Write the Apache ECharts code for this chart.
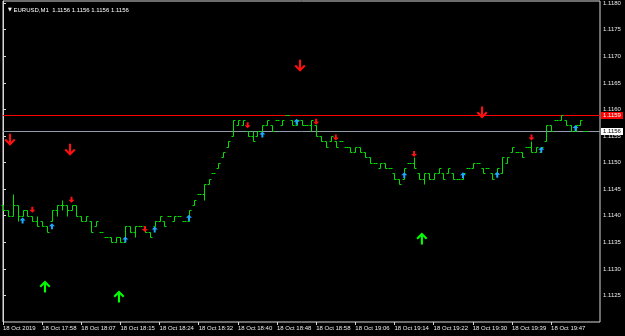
<!DOCTYPE html>
<html><head><meta charset="utf-8">
<script src="https://cdn.jsdelivr.net/npm/echarts@6/dist/echarts.min.js"></script>
<style>html,body{margin:0;padding:0;background:#000;}#c{width:625px;height:336px;}</style>
</head><body><div id="c"></div>
<script>
const timeLabels = ["18 Oct 2019","18 Oct 17:58","18 Oct 18:07","18 Oct 18:15","18 Oct 18:24","18 Oct 18:32","18 Oct 18:40","18 Oct 18:48","18 Oct 18:58","18 Oct 19:06","18 Oct 19:14","18 Oct 19:22","18 Oct 19:30","18 Oct 19:39","18 Oct 19:47"];
const barsPerLabel = 8;
const slotCount = 123;
const priceTicks = ["1.1125","1.1130","1.1135","1.1140","1.1145","1.1150","1.1155","1.1160","1.1165","1.1170","1.1175","1.1180"];

const openP = [1.1142,1.1141,1.1140,1.1142,1.1140,1.1141,1.1140,1.1139,1.1139,1.1138,
1.1139,1.1141,1.1142,1.1142,1.1141,1.1142,1.1140,1.1139,1.1139,1.1138,
1.1137,1.1136,1.1136,1.1135,1.1136,1.1135,1.1138,1.1137,1.1138,1.1138,
1.1137,1.1138,1.1139,1.1139,1.1140,1.1139,1.1140,1.1139,1.1139,1.1142,
1.1144,1.1144,1.1146,1.1148,1.1149,1.1151,1.1153,1.1155,1.1157,1.1157,
1.1156,1.1155,1.1155,1.1156,1.1157,1.1157,1.1158,1.1157,1.1159,1.1158,
1.1157,1.1158,1.1157,1.1157,1.1157,1.1155,1.1154,1.1154,1.1154,1.1154,
1.1153,1.1153,1.1152,1.1153,1.1152,1.1151,1.1150,1.1149,1.1150,1.1149,
1.1148,1.1147,1.1147,1.1150,1.1150,1.1148,1.1147,1.1148,1.1147,1.1148,
1.1148,1.1148,1.1148,1.1147,1.1147,1.1149,1.1149,1.1150,1.1149,1.1149,
1.1148,1.1148,1.1148,1.1150,1.1152,1.1152,1.1152,1.1153,1.1153,1.1152,
1.1152,1.1154,1.1157,1.1158,1.1158,1.1158,1.1157,1.1156,1.1157,1.1156];
const highP = [1.1142,1.1141,1.1144,1.1142,1.1141,1.1141,1.1140,1.1140,1.1139,1.1138,
1.1141,1.1142,1.1143,1.1142,1.1142,1.1142,1.1140,1.1140,1.1139,1.1139,
1.1137,1.1136,1.1136,1.1136,1.1136,1.1138,1.1138,1.1138,1.1138,1.1138,
1.1137,1.1139,1.1140,1.1139,1.1140,1.1140,1.1140,1.1139,1.1141,1.1143,
1.1144,1.1146,1.1147,1.1148,1.1150,1.1152,1.1154,1.1158,1.1158,1.1158,
1.1156,1.1156,1.1156,1.1157,1.1158,1.1157,1.1158,1.1158,1.1159,1.1158,
1.1158,1.1158,1.1157,1.1158,1.1157,1.1155,1.1154,1.1155,1.1154,1.1154,
1.1153,1.1153,1.1153,1.1153,1.1152,1.1151,1.1150,1.1150,1.1150,1.1149,
1.1148,1.1147,1.1149,1.1150,1.1151,1.1148,1.1148,1.1148,1.1148,1.1149,
1.1148,1.1149,1.1148,1.1147,1.1148,1.1149,1.1150,1.1150,1.1149,1.1149,
1.1148,1.1149,1.1151,1.1151,1.1153,1.1152,1.1152,1.1153,1.1154,1.1153,
1.1153,1.1157,1.1157,1.1158,1.1159,1.1158,1.1157,1.1157,1.1158,1.1156];
const lowP = [1.1141,1.1140,1.1140,1.1139,1.1140,1.1140,1.1139,1.1138,1.1138,1.1137,
1.1139,1.1140,1.1141,1.1140,1.1141,1.1140,1.1139,1.1139,1.1137,1.1138,
1.1137,1.1136,1.1135,1.1135,1.1135,1.1135,1.1137,1.1136,1.1138,1.1137,
1.1136,1.1138,1.1139,1.1138,1.1140,1.1139,1.1140,1.1139,1.1139,1.1142,
1.1144,1.1143,1.1146,1.1148,1.1149,1.1151,1.1153,1.1155,1.1157,1.1157,
1.1155,1.1154,1.1155,1.1156,1.1157,1.1156,1.1158,1.1157,1.1159,1.1157,
1.1157,1.1157,1.1157,1.1156,1.1155,1.1154,1.1153,1.1154,1.1153,1.1154,
1.1153,1.1152,1.1152,1.1152,1.1151,1.1150,1.1150,1.1149,1.1149,1.1149,
1.1147,1.1146,1.1147,1.1150,1.1149,1.1147,1.1146,1.1147,1.1147,1.1148,
1.1147,1.1148,1.1147,1.1147,1.1147,1.1149,1.1149,1.1150,1.1148,1.1149,
1.1147,1.1148,1.1148,1.1150,1.1152,1.1152,1.1151,1.1153,1.1152,1.1152,
1.1152,1.1154,1.1156,1.1158,1.1158,1.1157,1.1156,1.1156,1.1157,1.1156];
const closeP = [1.1141,1.1140,1.1142,1.1140,1.1141,1.1140,1.1139,1.1138,1.1138,1.1137,
1.1141,1.1142,1.1142,1.1141,1.1142,1.1140,1.1139,1.1140,1.1137,1.1139,
1.1137,1.1136,1.1135,1.1136,1.1135,1.1138,1.1137,1.1138,1.1138,1.1137,
1.1136,1.1139,1.1140,1.1138,1.1140,1.1140,1.1140,1.1139,1.1141,1.1143,
1.1144,1.1146,1.1147,1.1148,1.1150,1.1152,1.1154,1.1158,1.1158,1.1158,
1.1155,1.1154,1.1156,1.1157,1.1158,1.1156,1.1158,1.1158,1.1159,1.1157,
1.1158,1.1157,1.1157,1.1158,1.1155,1.1154,1.1153,1.1155,1.1153,1.1154,
1.1153,1.1152,1.1153,1.1152,1.1151,1.1150,1.1150,1.1150,1.1149,1.1149,
1.1147,1.1146,1.1149,1.1150,1.1149,1.1147,1.1148,1.1147,1.1148,1.1149,
1.1147,1.1149,1.1147,1.1147,1.1148,1.1149,1.1150,1.1150,1.1148,1.1149,
1.1147,1.1149,1.1151,1.1151,1.1153,1.1152,1.1151,1.1153,1.1152,1.1153,
1.1153,1.1157,1.1156,1.1158,1.1159,1.1157,1.1156,1.1157,1.1158,1.1156];

const bigDownArrows = [[1.43,1.11543],[13.7,1.11524],[60.7,1.11682],[97.9,1.11594]];
const bigUpArrows = [[8.58,1.11267],[23.7,1.11248],[85.6,1.11357]];
const smallDownArrows = [[6,1.11411],[14,1.11430],[29,1.11375],[50,1.11570],[64,1.11577],[68,1.11547],[84,1.11516],[108,1.11547]];
const smallUpArrows = [[4,1.11391],[10,1.11380],[25,1.11355],[31,1.11374],[38,1.11396],[53,1.11553],[60,1.11577],[82,1.11476],[94,1.11476],[101,1.11477],[110,1.11524],[117,1.11565]];
const levelPrices = [1.1159, 1.1156];
const symbolName = "EURUSD,M1";
const headerQuotes = ["1.1156","1.1156","1.1156","1.1156"];

const FONT = "Liberation Sans";
const categories = [];
for (let i = 0; i < slotCount; i++) categories.push(String(i));
const isLabelled = (idx) => idx % barsPerLabel === 0 && (idx / barsPerLabel) < timeLabels.length;
const ohlcData = openP.map((o, i) => [i, o, highP[i], lowP[i], closeP[i]]);
const levelData = levelPrices.map((p, i) => [0, p, i]);
const levelStyles = [
  {line: '#ff0000', tagBg: '#ff0000', tagText: '#ffffff'},
  {line: '#8f9bab', tagBg: '#ffffff', tagText: '#000000'}
];

const barColor = '#00e000';
const bigDownPath = 'path://M4,0 L6,0 L6,7.5 L8.8,4.7 L10.2,6.1 L5,11.3 L-0.2,6.1 L1.2,4.7 L4,7.5 Z';
const bigUpPath = 'path://M4,11.3 L6,11.3 L6,3.8 L8.8,6.6 L10.2,5.2 L5,0 L-0.2,5.2 L1.2,6.6 L4,3.8 Z';
const smallDownPath = 'path://M2,0 L4,0 L4,3 L6,3 L3,6 L0,3 L2,3 Z';
const smallUpPath = 'path://M3,0 L6,3 L4,3 L4,6 L2,6 L2,3 L0,3 Z';

const chart = echarts.init(document.getElementById('c'), null, {renderer: 'canvas'});
chart.setOption({
  backgroundColor: '#000000',
  animation: false,
  title: {
    left: 3, top: 2,
    text: '{t|▼} ' + symbolName + '  ' + headerQuotes.join(' '),
    textStyle: {color: '#ffffff', fontFamily: FONT, fontSize: 6, fontWeight: 'normal',
      rich: {t: {fontSize: 5, color: '#ffffff', fontFamily: 'DejaVu Sans'}}}
  },
  grid: {left: 3, top: 1, width: 597, height: 321, show: true, borderColor: '#d8d8d8', borderWidth: 1, backgroundColor: 'transparent'},
  xAxis: [{
    type: 'category', data: categories, boundaryGap: false,
    axisLine: {show: false},
    axisTick: {show: true, inside: false, length: 3, interval: (idx) => isLabelled(idx), lineStyle: {color: '#d8d8d8'}},
    axisLabel: {show: true, interval: (idx) => isLabelled(idx), align: 'left', margin: 3,
      formatter: (v, idx) => isLabelled(idx) ? timeLabels[idx / barsPerLabel] : '',
      color: '#e8e8e8', fontFamily: FONT, fontSize: 6},
    splitLine: {show: false}
  }, {
    type: 'value', min: 0, max: slotCount - 1, show: false
  }],
  yAxis: {
    type: 'value', position: 'right', min: 1.1120, max: 1.11804, interval: 0.0005,
    axisLine: {show: true, lineStyle: {color: '#d8d8d8'}},
    axisTick: {show: true, inside: false, length: 3, lineStyle: {color: '#d8d8d8'}},
    axisLabel: {show: true, margin: 3, showMinLabel: false, showMaxLabel: false,
      formatter: (v) => { const s = v.toFixed(4); return priceTicks.indexOf(s) >= 0 ? s : ''; },
      color: '#e8e8e8', fontFamily: FONT, fontSize: 6},
    splitLine: {show: false}
  },
  series: [{
    type: 'custom', name: 'levels', xAxisIndex: 1, silent: true, z: 1, clip: false,
    encode: {x: 0, y: 1},
    data: levelData,
    renderItem: function (params, api) {
      const p = api.coord([0, api.value(1)]);
      const cs = params.coordSys;
      const sty = levelStyles[api.value(2)];
      const y = Math.round(p[1]) + 0.5;
      const xr = cs.x + cs.width;
      return {type: 'group', children: [
        {type: 'line', shape: {x1: cs.x, y1: y, x2: xr, y2: y}, style: {stroke: sty.line, lineWidth: 1, opacity: 1}},
        {type: 'rect', shape: {x: xr + 1, y: y - 3.5, width: 22, height: 7}, style: {fill: sty.tagBg}},
        {type: 'text', style: {text: api.value(1).toFixed(4), x: xr + 12, y: y, align: 'center', verticalAlign: 'middle',
          fill: sty.tagText, font: '6px "Liberation Sans"'}}
      ]};
    }
  }, {
    type: 'custom', name: 'bars', xAxisIndex: 0, silent: true, z: 2,
    encode: {x: 0, y: [1, 2, 3, 4]},
    data: ohlcData,
    renderItem: function (params, api) {
      const i = api.value(0);
      const o = api.coord([i, api.value(1)]);
      const h = api.coord([i, api.value(2)]);
      const l = api.coord([i, api.value(3)]);
      const c = api.coord([i, api.value(4)]);
      const x = Math.round(o[0]) + 0.5;
      const st = {stroke: barColor, lineWidth: 1};
      const yy = (p) => Math.round(p[1]) + 0.5;
      return {type: 'group', children: [
        {type: 'line', shape: {x1: x, y1: yy(h), x2: x, y2: yy(l)}, style: st},
        {type: 'line', shape: {x1: x - 2, y1: yy(o), x2: x, y2: yy(o)}, style: st},
        {type: 'line', shape: {x1: x, y1: yy(c), x2: x + 2, y2: yy(c)}, style: st}
      ]};
    }
  }, {
    type: 'scatter', xAxisIndex: 1, data: bigDownArrows, symbol: bigDownPath, symbolSize: [11, 12],
    itemStyle: {color: '#ff1010', opacity: 1}, silent: true, z: 5
  }, {
    type: 'scatter', xAxisIndex: 1, data: bigUpArrows, symbol: bigUpPath, symbolSize: [11, 12],
    itemStyle: {color: '#00ff00', opacity: 1}, silent: true, z: 5
  }, {
    type: 'scatter', xAxisIndex: 1, data: smallDownArrows, symbol: smallDownPath, symbolSize: [6, 6],
    itemStyle: {color: '#ff1010', opacity: 1}, silent: true, z: 5
  }, {
    type: 'scatter', xAxisIndex: 1, data: smallUpArrows, symbol: smallUpPath, symbolSize: [6, 6],
    itemStyle: {color: '#1ea8ff', opacity: 1}, silent: true, z: 5
  }]
});
</script></body></html>
